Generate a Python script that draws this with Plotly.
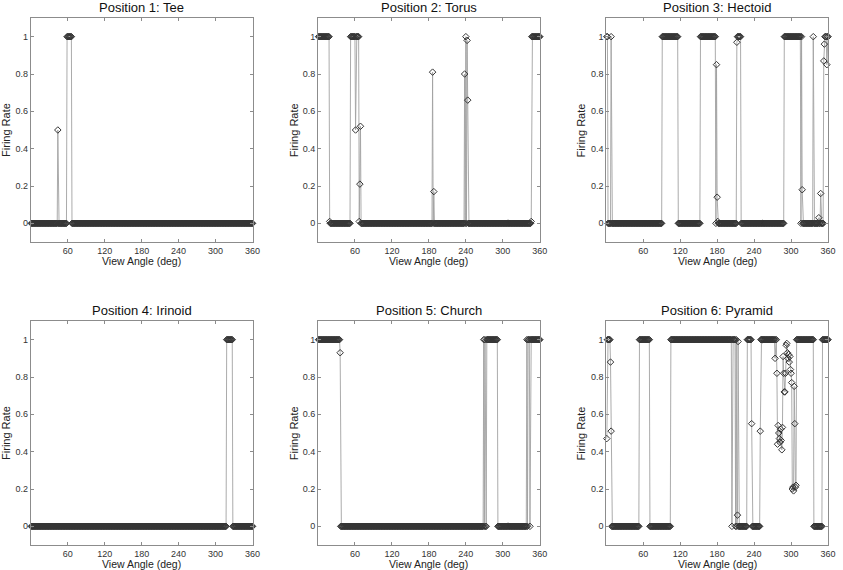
#!/usr/bin/env python3
"""
View-angle tuning of a place cell: firing rate vs view angle at six positions
"""

import plotly.graph_objects as go

# Each run is (first angle, last angle, firing rate),
# sampled once per degree of view angle.
tee_runs = [(1, 43, 0), (44, 44, 0.5), (45, 58, 0), (59, 66, 1), (67, 360, 0)]

torus_runs = [(1, 18, 1), (19, 19, 0.01), (20, 52, 0), (53, 60, 1), (61, 61, 0.5),
              (62, 66, 1), (67, 67, 0.01), (68, 68, 0.21), (69, 69, 0.52), (70, 185, 0),
              (186, 186, 0.81), (187, 187, 0), (188, 188, 0.17), (189, 237, 0),
              (238, 238, 0.8), (239, 239, 0), (240, 240, 1), (241, 241, 0),
              (242, 242, 0.98), (243, 243, 0.66), (244, 345, 0), (346, 346, 0.01),
              (347, 360, 1)]

hectoid_runs = [(1, 2, 1), (3, 7, 0), (8, 8, 1), (9, 90, 0), (91, 116, 1), (117, 152, 0),
                (153, 177, 1), (178, 178, 0), (179, 179, 0.85), (180, 180, 0.14),
                (181, 181, 0.01), (182, 211, 0), (212, 212, 0.97), (213, 218, 1),
                (219, 288, 0), (289, 315, 1), (316, 316, 0), (317, 317, 1),
                (318, 318, 0.18), (319, 335, 0), (336, 336, 1), (337, 344, 0),
                (345, 345, 0.03), (346, 347, 0), (348, 348, 0.16), (349, 352, 0),
                (353, 353, 0.87), (354, 354, 0.96), (355, 357, 1), (358, 358, 0.85),
                (359, 360, 1)]

irinoid_runs = [(1, 317, 0), (318, 327, 1), (328, 360, 0)]

church_runs = [(1, 35, 1), (36, 36, 0.93), (37, 268, 0), (269, 269, 1), (270, 270, 0),
               (271, 271, 1), (272, 273, 0), (274, 291, 1), (292, 338, 0), (339, 339, 1),
               (340, 340, 0), (341, 343, 1), (344, 344, 0), (345, 360, 1)]

pyramid_runs = [(1, 1, 0.47), (2, 6, 1), (7, 7, 0.88), (8, 8, 0.51), (9, 53, 0),
                (54, 70, 1), (71, 104, 0), (105, 203, 1), (204, 204, 0), (205, 209, 1),
                (210, 210, 0), (211, 211, 1), (212, 212, 0), (213, 213, 0.06),
                (214, 214, 0.99), (215, 228, 0), (229, 235, 1), (236, 236, 0.55),
                (237, 249, 0), (250, 250, 0.51), (251, 273, 1), (274, 274, 0.9),
                (275, 276, 1), (277, 277, 0.82), (278, 278, 0.44), (279, 279, 0.54),
                (280, 280, 0.5), (281, 281, 0.47), (282, 282, 0.45), (283, 283, 0.52),
                (284, 284, 0.46), (285, 285, 0.41), (286, 286, 0.53), (287, 287, 0.91),
                (288, 288, 0.82), (289, 290, 0.72), (291, 291, 0.82), (292, 292, 0.97),
                (293, 293, 0.98), (294, 294, 0.93), (295, 295, 0.9), (296, 296, 0.92),
                (297, 297, 0.88), (298, 298, 0.91), (299, 299, 0.84), (300, 300, 0.82),
                (301, 301, 0.77), (302, 302, 0.2), (303, 303, 0.21), (304, 304, 0.19),
                (305, 305, 0.75), (306, 306, 0.55), (307, 307, 0.21), (308, 308, 0.22),
                (309, 336, 1), (337, 350, 0), (351, 360, 1)]

panel_titles = ["Position 1: Tee", "Position 2: Torus", "Position 3: Hectoid",
                "Position 4: Irinoid", "Position 5: Church", "Position 6: Pyramid"]
panel_runs = [tee_runs, torus_runs, hectoid_runs, irinoid_runs, church_runs, pyramid_runs]

x_ticks = [60, 120, 180, 240, 300, 360]
y_ticks = [0, 0.2, 0.4, 0.6, 0.8, 1]
y_tick_labels = ["0", "0.2", "0.4", "0.6", "0.8", "1"]

# layout in pixels of the 843x570 page
W, H = 843, 570
col_px = [(31, 255), (321, 545), (612, 836)]
row_px = [(18, 242), (321, 545)]
ytitle_px = [6, 297, 587]
FONT = "Liberation Sans, Arial, sans-serif"


def expand(runs):
    """Turn the runs into one sample per degree"""
    angles, rates = [], []
    for start, end, rate in runs:
        for a in range(start, end + 1):
            angles.append(a)
            rates.append(rate)
    return angles, rates


def px_x(x):
    return x / W


def px_y(y):
    return 1 - y / H


fig = go.Figure()
layout = {}
annotations = []

for i, (title, runs) in enumerate(zip(panel_titles, panel_runs)):
    row, col = divmod(i, 3)
    n = "" if i == 0 else str(i + 1)
    angles, rates = expand(runs)

    fig.add_trace(go.Scatter(
        x=angles, y=rates, mode="lines+markers",
        line=dict(color="#a2a2a2", width=0.9),
        marker=dict(symbol="diamond-open", size=5, color="#353535",
                    line=dict(width=1, color="#353535")),
        xaxis="x" + n, yaxis="y" + n, showlegend=False, cliponaxis=False,
    ))

    x0, x1 = col_px[col]
    y0, y1 = row_px[row]
    axis_style = dict(showline=True, linecolor="#8c8c8c", linewidth=1, mirror="ticks",
                      ticks="inside", ticklen=3, tickcolor="#8c8c8c", showgrid=False,
                      zeroline=False, tickfont=dict(family=FONT, size=9, color="#333"))
    layout["xaxis" + n] = dict(domain=[px_x(x0), px_x(x1)], range=[0, 360],
                               tickvals=x_ticks, anchor="y" + n, ticklabelstandoff=0,
                               **axis_style)
    layout["yaxis" + n] = dict(domain=[px_y(y1), px_y(y0)], range=[-0.1, 1.1],
                               tickvals=y_ticks, ticktext=y_tick_labels,
                               anchor="x" + n, **axis_style)

    # panel title
    annotations.append(dict(
        text=title, x=px_x((x0 + x1) / 2), y=px_y(y0 - 11),
        xanchor="center", yanchor="middle",
        font=dict(family=FONT, size=13, color="#111")))
    # x axis title
    annotations.append(dict(
        text="View Angle (deg)", x=px_x((x0 + x1) / 2), y=px_y(y1 + 19),
        xanchor="center", yanchor="middle",
        font=dict(family=FONT, size=10.5, color="#222")))
    # y axis title
    annotations.append(dict(
        text="Firing Rate", x=px_x(ytitle_px[col]), y=px_y((y0 + y1) / 2),
        xanchor="center", yanchor="middle", textangle=-90,
        font=dict(family=FONT, size=11, color="#222")))

for a in annotations:
    a.update(xref="paper", yref="paper", showarrow=False)

fig.update_layout(
    width=W, height=H,
    margin=dict(l=0, r=0, t=0, b=0),
    paper_bgcolor="white", plot_bgcolor="white",
    annotations=annotations,
    **layout
)

# the page body has a default margin; drop it so the figure fills the window
fig.write_html("out.html", config={"displayModeBar": False},
               post_script="document.body.style.margin = '0';")
